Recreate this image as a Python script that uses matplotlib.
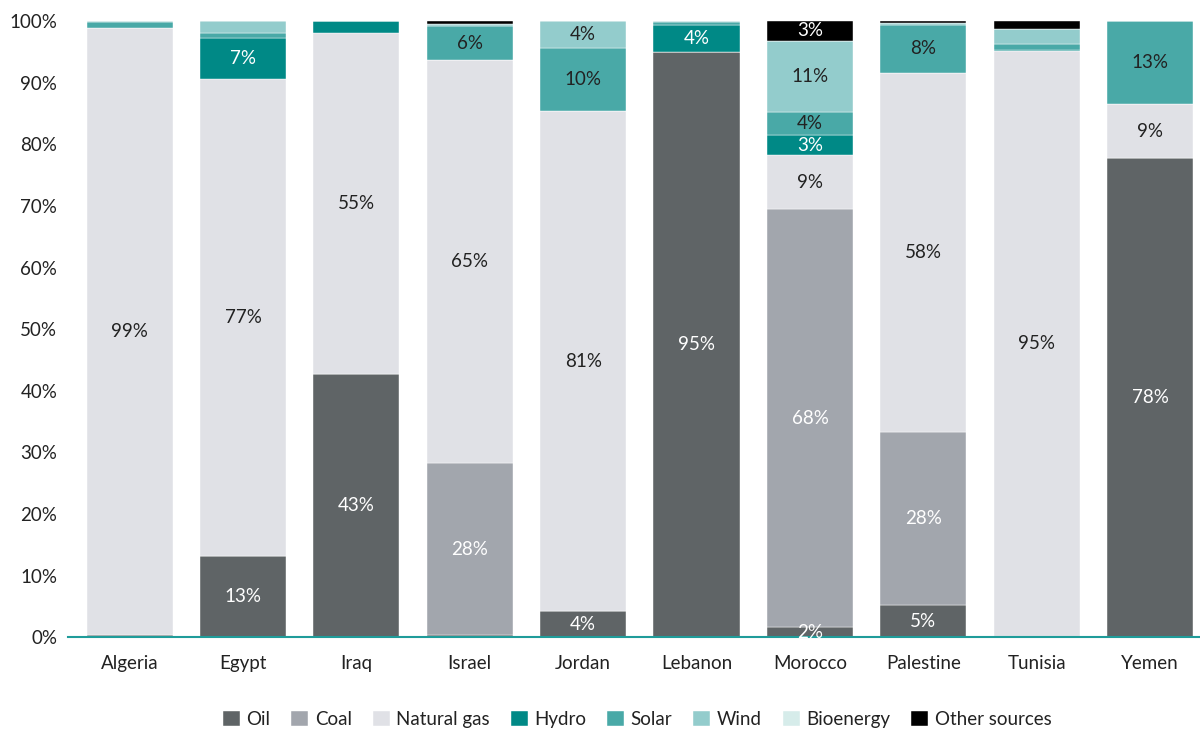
import matplotlib
matplotlib.use("Agg")
import matplotlib.pyplot as plt
import numpy as np

plt.rcParams['font.family'] = ['Lato', 'DejaVu Sans']

countries = ["Algeria", "Egypt", "Iraq", "Israel", "Jordan", "Lebanon",
             "Morocco", "Palestine", "Tunisia", "Yemen"]
series_names = ["Oil", "Coal", "Natural gas", "Hydro", "Solar", "Wind",
                "Bioenergy", "Other sources"]

oil       = [0.4, 13.1, 42.7, 0.3, 4.2, 95.0, 1.6, 5.2, 0.1, 77.8]
coal      = [0.0, 0.0, 0.0, 27.9, 0.0, 0.0, 67.9, 28.1, 0.0, 0.0]
gas       = [98.5, 77.5, 55.3, 65.5, 81.2, 0.0, 8.7, 58.3, 95.0, 8.7]
hydro     = [0.0, 6.6, 2.0, 0.0, 0.0, 4.3, 3.3, 0.0, 0.2, 0.0]
solar     = [1.0, 0.8, 0.0, 5.5, 10.3, 0.5, 3.7, 7.8, 1.0, 13.5]
wind      = [0.1, 2.0, 0.0, 0.3, 4.3, 0.2, 11.6, 0.3, 2.4, 0.0]
bioenergy = [0.0, 0.0, 0.0, 0.0, 0.0, 0.0, 0.0, 0.0, 0.0, 0.0]
other     = [0.0, 0.0, 0.0, 0.5, 0.0, 0.0, 3.2, 0.3, 1.4, 0.0]

# data labels shown on the chart (None = no label)
oil_lbl   = [None, "13%", "43%", None, "4%", "95%", "2%", "5%", None, "78%"]
coal_lbl  = [None, None, None, "28%", None, None, "68%", "28%", None, None]
gas_lbl   = ["99%", "77%", "55%", "65%", "81%", None, "9%", "58%", "95%", "9%"]
hydro_lbl = [None, "7%", None, None, None, "4%", "3%", None, None, None]
solar_lbl = [None, None, None, "6%", "10%", None, "4%", "8%", None, "13%"]
wind_lbl  = [None, None, None, None, "4%", None, "11%", None, None, None]
bio_lbl   = [None] * 10
other_lbl = [None, None, None, None, None, None, "3%", None, None, None]

yticks = [0, 10, 20, 30, 40, 50, 60, 70, 80, 90, 100]

colors = ["#5f6466", "#a2a6ad", "#e0e1e6", "#008986", "#49a9a7",
          "#93cccc", "#d6ecea", "#000000"]
text_colors = ["white", "white", "#222222", "white", "#222222",
               "#222222", "#222222", "white"]

data = [oil, coal, gas, hydro, solar, wind, bioenergy, other]
labels = [oil_lbl, coal_lbl, gas_lbl, hydro_lbl, solar_lbl, wind_lbl,
          bio_lbl, other_lbl]

fig = plt.figure(figsize=(12, 7.29), dpi=100)
ax = fig.add_axes([0.057, 0.126, 0.943, 0.845])

x = np.arange(len(countries))
bottom = np.zeros(len(countries))
for vals, name, col, tcol, lbls in zip(data, series_names, colors,
                                        text_colors, labels):
    v = np.array(vals, dtype=float)
    ax.bar(x, v, width=0.76, bottom=bottom, color=col, label=name,
           edgecolor="white", linewidth=0.3)
    for i in range(len(x)):
        if lbls[i] is not None:
            ax.text(x[i], bottom[i] + v[i] / 2, lbls[i], ha="center",
                    va="center", color=tcol, fontsize=13.5)
    bottom += v

ax.set_xlim(-0.54, 9.44)
ax.set_ylim(0, 100)
ax.set_yticks(yticks)
ax.set_yticklabels([f"{t}%" for t in yticks], fontsize=13.5, color="#222222")
ax.set_xticks(x)
ax.set_xticklabels(countries, fontsize=13.5, color="#222222")
ax.tick_params(axis="both", length=0)
ax.tick_params(axis="x", pad=13)
ax.tick_params(axis="y", pad=8)
for s in ["top", "right", "left"]:
    ax.spines[s].set_visible(False)
ax.spines["bottom"].set_color("#1f9c9a")
ax.spines["bottom"].set_linewidth(1.5)

leg = fig.legend(loc="center", bbox_to_anchor=(0.531, 0.013), ncol=8,
                 frameon=False, fontsize=13.5, handlelength=0.9,
                 handleheight=0.9, handletextpad=0.35, columnspacing=1.12)
for t in leg.get_texts():
    t.set_color("#222222")

fig.savefig("out.png", dpi=100)
